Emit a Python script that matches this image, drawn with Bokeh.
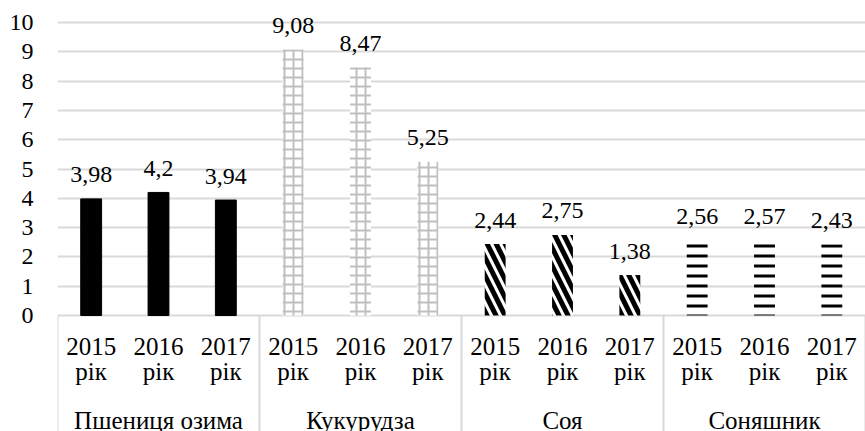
from bokeh.plotting import figure
from bokeh.models import FactorRange, Range1d, FixedTicker, ColumnDataSource
from bokeh.core.properties import value
from bokeh.embed import file_html
from bokeh.resources import INLINE

# ---- data ----
crops = ["Пшениця озима", "Кукурудза", "Соя", "Соняшник"]
years = ["2015", "2016", "2017"]
year_suffix = "рік"
wheat = [3.98, 4.2, 3.94]
corn = [9.08, 8.47, 5.25]
soy = [2.44, 2.75, 1.38]
sunflower = [2.56, 2.57, 2.43]
y_ticks = list(range(0, 11))

series = [wheat, corn, soy, sunflower]

FONT = "Liberation Serif"
GRID = "#d9d9d9"

factors = [(c, y + " " + year_suffix) for c in crops for y in years]
x_range = FactorRange(*factors, factor_padding=0, group_padding=0, range_padding=0)

p = figure(
    width=865, height=431,
    x_range=x_range, y_range=Range1d(-3.959, 10.751),
    output_backend="svg", toolbar_location=None,
    x_axis_location=None,
    min_border_left=57, min_border_right=0, min_border_top=0, min_border_bottom=0,
    outline_line_color=None,
)
p.xgrid.visible = False
p.yaxis.ticker = FixedTicker(ticks=y_ticks)
p.yaxis.axis_line_color = None
p.yaxis.major_tick_line_color = None
p.yaxis.major_tick_out = 0
p.yaxis.minor_tick_line_color = None
p.yaxis.major_label_standoff = 24
p.yaxis.major_label_text_font = FONT
p.yaxis.major_label_text_font_size = "24px"
p.yaxis.major_label_text_color = "black"
p.ygrid.ticker = FixedTicker(ticks=y_ticks)
p.ygrid.grid_line_color = GRID
p.ygrid.grid_line_width = 2

styles = [
    dict(fill_color="black", line_color="black"),
    dict(fill_color="white", line_color=None, hatch_pattern="+", hatch_color="#bfbfbf",
         hatch_scale=9, hatch_weight=2),
    dict(fill_color="white", line_color=None, hatch_pattern="\\", hatch_color="black",
         hatch_scale=18, hatch_weight=5),
    dict(fill_color="white", line_color=None, hatch_pattern="-", hatch_color="black",
         hatch_scale=10, hatch_weight=3),
]

for crop, vals, st in zip(crops, series, styles):
    src = ColumnDataSource(dict(
        x=[(crop, y + " " + year_suffix) for y in years],
        top=vals,
        label=[str(v).replace(".", ",") for v in vals],
    ))
    p.vbar(x="x", top="top", bottom=0, width=0.31, source=src, **st)
    p.text(x="x", y="top", text="label", source=src, text_align="center",
           text_baseline="alphabetic", y_offset=-24, text_font=value(FONT),
           text_font_size="24px", text_color="black")

# group separators
n = len(years)
seps = [i * n for i in range(len(crops) + 1)]
p.segment(x0=seps, y0=[0] * len(seps), x1=seps, y1=[-10] * len(seps),
          line_color=GRID, line_width=2)

# category labels
lab = ColumnDataSource(dict(
    x=factors,
    year=[f[1].split(" ")[0] for f in factors],
    suf=[year_suffix] * len(factors),
    zero=[0] * len(factors),
))
p.text(x="x", y="zero", text="year", source=lab, text_align="center",
       text_baseline="alphabetic", y_offset=31, text_font=value(FONT),
       text_font_size="25px", text_color="black")
p.text(x="x", y="zero", text="suf", source=lab, text_align="center",
       text_baseline="alphabetic", y_offset=56, text_font=value(FONT),
       text_font_size="25px", text_color="black")
grp = ColumnDataSource(dict(x=crops, zero=[0] * len(crops)))
p.text(x="x", y="zero", text="x", source=grp, text_align="center",
       text_baseline="alphabetic", y_offset=105, text_font=value(FONT),
       text_font_size="25px", text_color="black")

open("out.html", "w").write(file_html(p, INLINE))
